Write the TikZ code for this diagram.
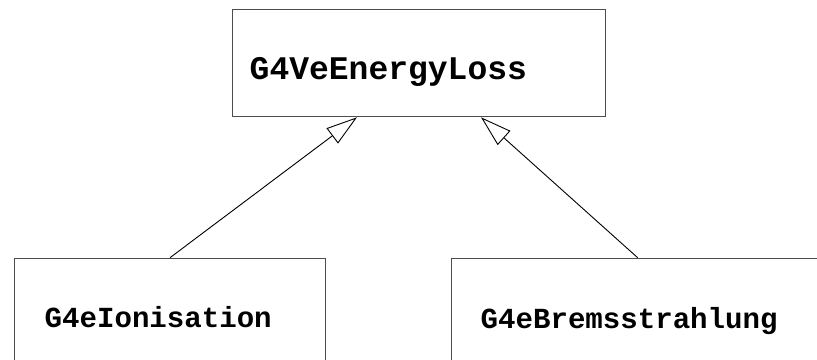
\documentclass[tikz,border=0pt]{standalone}
\usepackage{fontspec}
\setmonofont{Liberation Mono}
\usetikzlibrary{arrows.meta,calc}
\begin{document}
\begin{tikzpicture}[x=1pt,y=1pt,
  box/.style={draw=black!70, line width=1.3pt, inner sep=0pt, anchor=north west},
  toplbl/.style={inner sep=0pt, anchor=base west, font=\ttfamily\bfseries\fontsize{33}{40}\selectfont},
  botlbl/.style={inner sep=0pt, anchor=base west, font=\ttfamily\bfseries\fontsize{29.1}{36}\selectfont},
  inh/.style={draw=black, line width=0.9pt, -{Triangle[open, length=31pt, width=19pt, line width=0.9pt]}}]
\useasboundingbox (0,0) rectangle (817,359);
\clip (0,0) rectangle (817,359);
% boxes
\node[box, minimum width=373pt, minimum height=107pt] (top) at (232,350) {};
\node[box, minimum width=311.3pt, minimum height=125pt] (lbox) at (13.7,101.3) {};
\node[box, minimum width=372pt, minimum height=125pt] (rbox) at (451,101.3) {};
% labels
\node[toplbl] (ttxt) at (249.5,279.5) {G4VeEnergyLoss};
\node[botlbl] (ltxt) at (44.5,31) {G4eIonisation};
\node[botlbl] (rtxt) at (480.5,30.2) {G4eBremsstrahlung};
% connector end points
\coordinate (ltip) at ($(top.south west)+(125,0)$);
\coordinate (rtip) at ($(top.south west)+(249,0)$);
\draw[inh] (lbox.north) -- (ltip);
\draw[inh] (rbox.north) -- (rtip);
\end{tikzpicture}
\end{document}
